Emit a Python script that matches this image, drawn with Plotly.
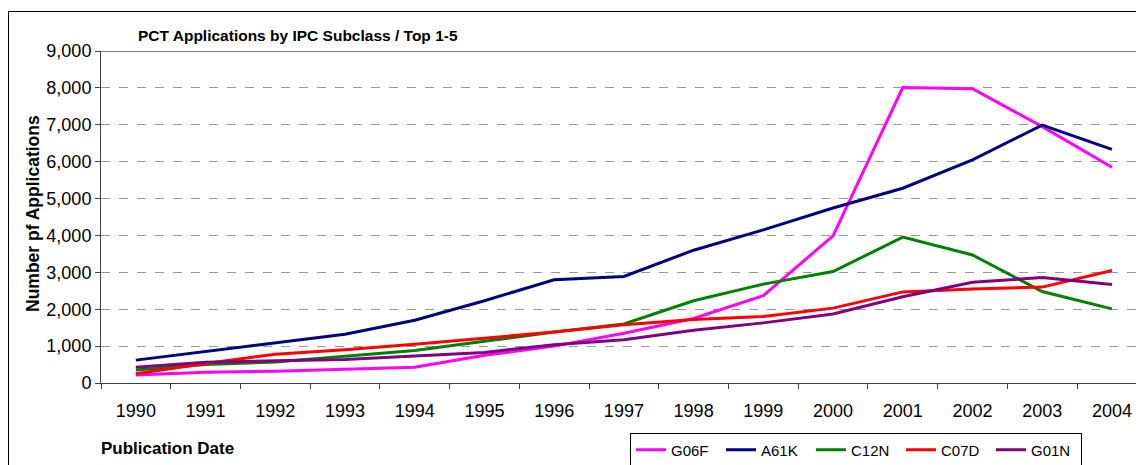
import plotly.graph_objects as go

years = [str(y) for y in range(1990, 2005)]
g06f = [220, 290, 320, 380, 430, 750, 1000, 1350, 1750, 2370, 3990, 8010, 7980, 6950, 5850]
a61k = [620, 850, 1100, 1320, 1700, 2230, 2800, 2890, 3600, 4150, 4745, 5280, 6050, 6990, 6335]
c12n = [350, 500, 570, 720, 880, 1130, 1380, 1600, 2230, 2680, 3020, 3955, 3470, 2480, 2010]
c07d = [250, 530, 780, 900, 1050, 1220, 1380, 1580, 1720, 1800, 2030, 2470, 2550, 2600, 3050]
g01n = [430, 560, 600, 640, 730, 830, 1040, 1170, 1430, 1630, 1870, 2340, 2730, 2860, 2670]

series = [("G06F", g06f, "#FF00FF"), ("A61K", a61k, "#000080"), ("C12N", c12n, "#008000"),
          ("C07D", c07d, "#FF0000"), ("G01N", g01n, "#800080")]

FONT = "Liberation Sans, Arial, sans-serif"
OX, OY = 8, 8  # page body margin
W, H = 1144 - OX, 465 - OY
L, T, R, B = 101 - OX, 51 - OY, 0, 82
pw, ph = W - L - R, H - T - B

fig = go.Figure()
for name, vals, col in series:
    fig.add_trace(go.Scatter(x=years, y=vals, name=name, mode="lines",
                             line=dict(color=col, width=3)))

def px2paper_x(px):
    return (px - OX - L) / pw

def py2paper_y(py):
    return (H - B - (py - OY)) / ph

fig.update_layout(
    width=W, height=H,
    margin=dict(l=L, t=T, r=R, b=B, autoexpand=False),
    paper_bgcolor="white", plot_bgcolor="white",
    font=dict(family=FONT, size=17, color="black"),
    showlegend=True,
    legend=dict(orientation="h", x=px2paper_x(630), y=py2paper_y(450), xanchor="left", yanchor="middle",
                bordercolor="black", borderwidth=1, font=dict(size=15, family=FONT),
                itemwidth=30, tracegroupgap=0, entrywidth=45, entrywidthmode="pixels"),
    xaxis=dict(type="category", range=[-0.5, 14.46], showgrid=False, showline=True,
               linecolor="#404040", linewidth=1, ticks="outside", ticklen=5, tickcolor="#404040",
               tickson="boundaries", ticklabelstandoff=11, tickfont=dict(size=18)),
    yaxis=dict(range=[0, 9000], dtick=1000, tickformat=",d", showgrid=True,
               gridcolor="#999999", griddash="dash", gridwidth=1, showline=True,
               linecolor="#404040", linewidth=1, ticks="outside", ticklen=5, tickcolor="#404040",
               zeroline=False, tickfont=dict(size=18)),
    shapes=[
        dict(type="line", xref="paper", yref="y", x0=0, x1=1, y0=9000, y1=9000,
             line=dict(color="#808080", width=2)),
        dict(type="rect", xref="paper", yref="paper", x0=px2paper_x(8.5), x1=px2paper_x(1150),
             y0=py2paper_y(470), y1=py2paper_y(11.5), line=dict(color="black", width=1),
             fillcolor="rgba(0,0,0,0)", layer="below"),
    ],
    annotations=[
        dict(text="<b>PCT Applications by IPC Subclass / Top 1-5</b>", xref="paper", yref="paper",
             x=px2paper_x(136), y=py2paper_y(35), xanchor="left", yanchor="middle",
             showarrow=False, font=dict(size=15.5, family=FONT)),
        dict(text="<b>Number pf Applications</b>", xref="paper", yref="paper",
             x=px2paper_x(33), y=py2paper_y(214), xanchor="center", yanchor="middle", textangle=-90,
             showarrow=False, font=dict(size=17.5, family=FONT)),
        dict(text="<b>Publication Date</b>", xref="paper", yref="paper",
             x=px2paper_x(99), y=py2paper_y(448), xanchor="left", yanchor="middle",
             showarrow=False, font=dict(size=17, family=FONT)),
    ],
)

fig.write_html("out.html")
